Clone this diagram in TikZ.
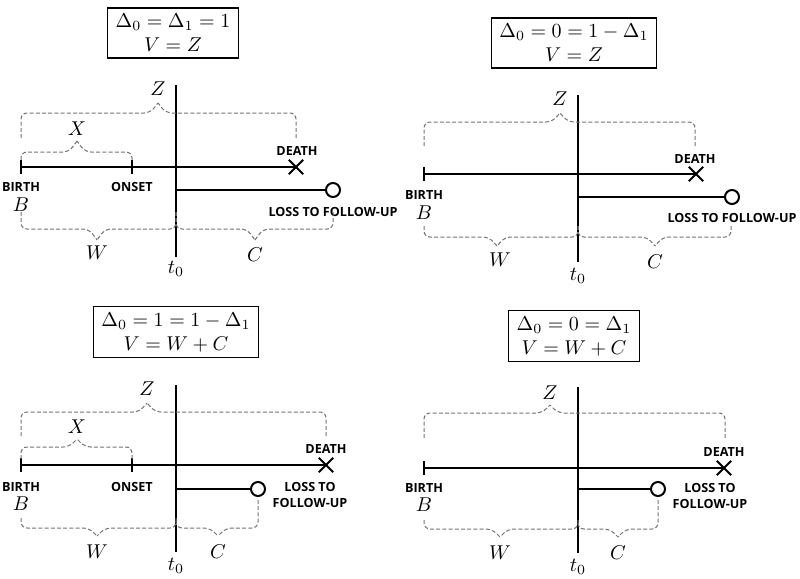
\documentclass[tikz,border=0pt]{standalone}
\usepackage{fontspec}
\newfontfamily\labfont{Open Sans}
\newcommand{\curly}[7]{%
  \draw[br] (#1,#2) -- (#1,#5) -- ({#6-8},#5) -- (#6,#7);
  \draw[br] (#3,#4) -- (#3,#5) -- ({#6+8},#5) -- (#6,#7);}
\begin{document}
\begin{tikzpicture}[x=0.5pt,y=-0.5pt,
  tl/.style={line width=1pt},
  br/.style={draw=black!55, line width=0.5pt, dash pattern=on 2pt off 1.1pt, rounded corners=3pt},
  ev/.style={font=\labfont\bfseries\fontsize{6.3}{8}\selectfont, inner sep=0pt, align=center},
  mv/.style={inner sep=0pt},
  bx/.style={draw, line width=0.8pt, align=center, inner xsep=4pt, inner ysep=3pt},
  lossc/.style={circle, draw, line width=1pt, fill=white, minimum size=7pt, inner sep=0pt},
  tick/.style={line width=1pt},
  xm/.style={line width=1pt}
]
\useasboundingbox (0,0) rectangle (800,579);

% ---------------- Panel 1 ----------------
\node[bx] (box1) at (173,33) {$\Delta_0=\Delta_1=1$\\$V=Z$};
\coordinate (ta1) at (176,85); \coordinate (tb1) at (176,257);
\draw[tl] (ta1) -- (tb1);
\node[mv] (tz1) at (176,269) {$t_0$};
\coordinate (b1) at (21,167); \coordinate (o1) at (132,167); \coordinate (d1) at (296,167);
\draw[tl] (b1) -- (d1);
\draw[tick] ([yshift=3.5pt]b1) -- ([yshift=-3.5pt]b1);
\draw[tick] ([yshift=3.5pt]o1) -- ([yshift=-3.5pt]o1);
\draw[xm] ([shift={(-3.6pt,-3.6pt)}]d1) -- ([shift={(3.6pt,3.6pt)}]d1);
\draw[xm] ([shift={(-3.6pt,3.6pt)}]d1) -- ([shift={(3.6pt,-3.6pt)}]d1);
\coordinate (s1) at (176,190);
\node[lossc] (l1) at (333,190) {};
\draw[tl] (s1) -- (l1);
\node[ev] (birth1) at (21,187) {BIRTH};
\node[ev] (onset1) at (132,187) {ONSET};
\node[mv] (B1) at (21,205) {$B$};
\node[ev] (death1) at (297,151) {DEATH};
\node[ev] (loss1) at (333,212) {LOSS TO FOLLOW-UP};
\curly{21}{138}{296}{138}{113}{158}{103}
\node[mv] (Z1) at (158,89) {$Z$};
\curly{21}{160}{132}{160}{152}{77}{141}
\node[mv] (X1) at (77,129) {$X$};
\curly{21}{212}{176}{212}{229}{97}{240}
\node[mv] (W1) at (97,253) {$W$};
\curly{176}{212}{333}{212}{229}{255}{240}
\node[mv] (C1) at (255,255) {$C$};

% ---------------- Panel 2 ----------------
\node[bx] (box2) at (574,43) {$\Delta_0=0=1-\Delta_1$\\$V=Z$};
\coordinate (ta2) at (578,95); \coordinate (tb2) at (578,262);
\draw[tl] (ta2) -- (tb2);
\node[mv] (tz2) at (578,276) {$t_0$};
\coordinate (b2) at (424,174); \coordinate (d2) at (696,174);
\draw[tl] (b2) -- (d2);
\draw[tick] ([yshift=3.5pt]b2) -- ([yshift=-3.5pt]b2);
\draw[xm] ([shift={(-3.6pt,-3.6pt)}]d2) -- ([shift={(3.6pt,3.6pt)}]d2);
\draw[xm] ([shift={(-3.6pt,3.6pt)}]d2) -- ([shift={(3.6pt,-3.6pt)}]d2);
\coordinate (s2) at (578,197);
\node[lossc] (l2) at (732,197) {};
\draw[tl] (s2) -- (l2);
\node[ev] (birth2) at (424,195) {BIRTH};
\node[mv] (B2) at (424,213) {$B$};
\node[ev] (death2) at (695,159) {DEATH};
\node[ev] (loss2) at (732,218) {LOSS TO FOLLOW-UP};
\curly{424}{146}{695}{146}{122}{560}{113}
\node[mv] (Z2) at (560,99) {$Z$};
\curly{424}{226}{578}{226}{237}{497}{246}
\node[mv] (W2) at (500,260) {$W$};
\curly{578}{226}{731}{226}{237}{655}{246}
\node[mv] (C2) at (655,262) {$C$};

% ---------------- Panel 3 ----------------
\node[bx] (box3) at (176,332) {$\Delta_0=1=1-\Delta_1$\\$V=W+C$};
\coordinate (ta3) at (176,385); \coordinate (tb3) at (176,552);
\draw[tl] (ta3) -- (tb3);
\node[mv] (tz3) at (176,566) {$t_0$};
\coordinate (b3) at (21,465); \coordinate (o3) at (132,465); \coordinate (d3) at (326,465);
\draw[tl] (b3) -- (d3);
\draw[tick] ([yshift=3.5pt]b3) -- ([yshift=-3.5pt]b3);
\draw[tick] ([yshift=3.5pt]o3) -- ([yshift=-3.5pt]o3);
\draw[xm] ([shift={(-3.6pt,-3.6pt)}]d3) -- ([shift={(3.6pt,3.6pt)}]d3);
\draw[xm] ([shift={(-3.6pt,3.6pt)}]d3) -- ([shift={(3.6pt,-3.6pt)}]d3);
\coordinate (s3) at (176,489);
\node[lossc] (l3) at (258,489) {};
\draw[tl] (s3) -- (l3);
\node[ev] (birth3) at (21,487) {BIRTH};
\node[ev] (onset3) at (132,487) {ONSET};
\node[mv] (B3) at (21,504) {$B$};
\node[ev] (death3) at (326,449) {DEATH};
\node[ev] (loss3) at (310,495) {LOSS TO\\FOLLOW-UP};
\curly{21}{436}{326}{436}{412}{147}{403}
\node[mv] (Z3) at (147,389) {$Z$};
\curly{21}{459}{132}{459}{447}{77}{439}
\node[mv] (X3) at (77,427) {$X$};
\curly{21}{518}{176}{518}{528}{97}{536}
\node[mv] (W3) at (97,552) {$W$};
\curly{176}{521}{258}{500}{528}{218}{536}
\node[mv] (C3) at (218,552) {$C$};

% ---------------- Panel 4 ----------------
\node[bx] (box4) at (574,336) {$\Delta_0=0=\Delta_1$\\$V=W+C$};
\coordinate (ta4) at (578,387); \coordinate (tb4) at (578,553);
\draw[tl] (ta4) -- (tb4);
\node[mv] (tz4) at (578,567) {$t_0$};
\coordinate (b4) at (424,468); \coordinate (d4) at (724,468);
\draw[tl] (b4) -- (d4);
\draw[tick] ([yshift=3.5pt]b4) -- ([yshift=-3.5pt]b4);
\draw[xm] ([shift={(-3.6pt,-3.6pt)}]d4) -- ([shift={(3.6pt,3.6pt)}]d4);
\draw[xm] ([shift={(-3.6pt,3.6pt)}]d4) -- ([shift={(3.6pt,-3.6pt)}]d4);
\coordinate (s4) at (578,489);
\node[lossc] (l4) at (658,489) {};
\draw[tl] (s4) -- (l4);
\node[ev] (birth4) at (424,488) {BIRTH};
\node[mv] (B4) at (424,505) {$B$};
\node[ev] (death4) at (724,452) {DEATH};
\node[ev] (loss4) at (710,496) {LOSS TO\\FOLLOW-UP};
\curly{424}{438}{725}{438}{413}{550}{405}
\node[mv] (Z4) at (550,393) {$Z$};
\curly{424}{520}{578}{520}{529}{500}{537}
\node[mv] (W4) at (500,553) {$W$};
\curly{578}{523}{658}{500}{529}{618}{537}
\node[mv] (C4) at (618,553) {$C$};
\end{tikzpicture}
\end{document}
